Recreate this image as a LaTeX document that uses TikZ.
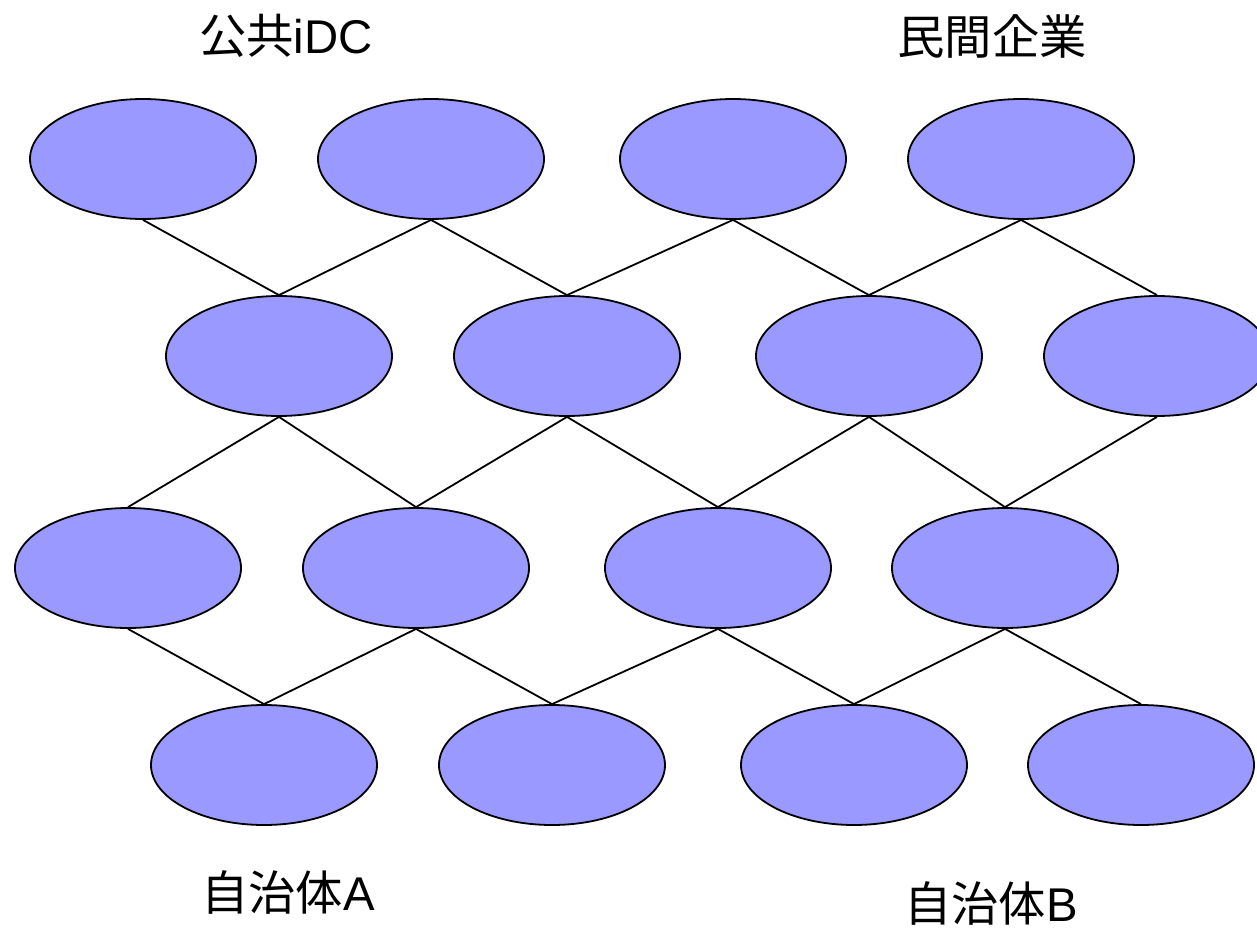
\documentclass[tikz,border=0pt]{standalone}
\usepackage{fontspec}
\setmainfont{Liberation Sans}
\newfontfamily\cjk{Noto Sans CJK JP}
\usetikzlibrary{shapes.geometric}
\definecolor{nodefill}{HTML}{9999FF}
\begin{document}
\begin{tikzpicture}[x=0.75pt,y=-0.75pt,
  cell/.style={ellipse,draw=black,line width=1.35pt,fill=nodefill,minimum width=226*0.75pt,minimum height=120*0.75pt,inner sep=0pt},
  link/.style={line width=1.35pt,black},
  lbl/.style={inner sep=0pt,font=\fontsize{35.5}{40}\selectfont}]
\useasboundingbox (0,0) rectangle (1257,928);
\begin{scope}
\clip (0,0) rectangle (1257,928);
% row 1
\node[cell] (a1) at (143,159) {};
\node[cell] (a2) at (431,159) {};
\node[cell] (a3) at (733,159) {};
\node[cell] (a4) at (1021,159) {};
% row 2
\node[cell] (b1) at (279,356) {};
\node[cell] (b2) at (567,356) {};
\node[cell] (b3) at (869,356) {};
\node[cell] (b4) at (1157,356) {};
% row 3
\node[cell] (c1) at (128,568) {};
\node[cell] (c2) at (416,568) {};
\node[cell] (c3) at (718,568) {};
\node[cell] (c4) at (1005,568) {};
% row 4
\node[cell] (d1) at (264,765) {};
\node[cell] (d2) at (552,765) {};
\node[cell] (d3) at (854,765) {};
\node[cell] (d4) at (1141,765) {};
\end{scope}
% links
\draw[link] (a1.south) -- (b1.north);
\draw[link] (a2.south) -- (b1.north);
\draw[link] (a2.south) -- (b2.north);
\draw[link] (a3.south) -- (b2.north);
\draw[link] (a3.south) -- (b3.north);
\draw[link] (a4.south) -- (b3.north);
\draw[link] (a4.south) -- (b4.north);
\draw[link] (b1.south) -- (c1.north);
\draw[link] (b1.south) -- (c2.north);
\draw[link] (b2.south) -- (c2.north);
\draw[link] (b2.south) -- (c3.north);
\draw[link] (b3.south) -- (c3.north);
\draw[link] (b3.south) -- (c4.north);
\draw[link] (b4.south) -- (c4.north);
\draw[link] (c1.south) -- (d1.north);
\draw[link] (c2.south) -- (d1.north);
\draw[link] (c2.south) -- (d2.north);
\draw[link] (c3.south) -- (d2.north);
\draw[link] (c3.south) -- (d3.north);
\draw[link] (c4.south) -- (d3.north);
\draw[link] (c4.south) -- (d4.north);
% labels
\node[lbl] (t1) at (286,36) {{\cjk 公共}iDC};
\node[lbl] (t2) at (992,36) {{\cjk 民間企業}};
\node[lbl] (t3) at (288,892) {{\cjk 自治体}A};
\node[lbl] (t4) at (991,903) {{\cjk 自治体}B};
\end{tikzpicture}
\end{document}
